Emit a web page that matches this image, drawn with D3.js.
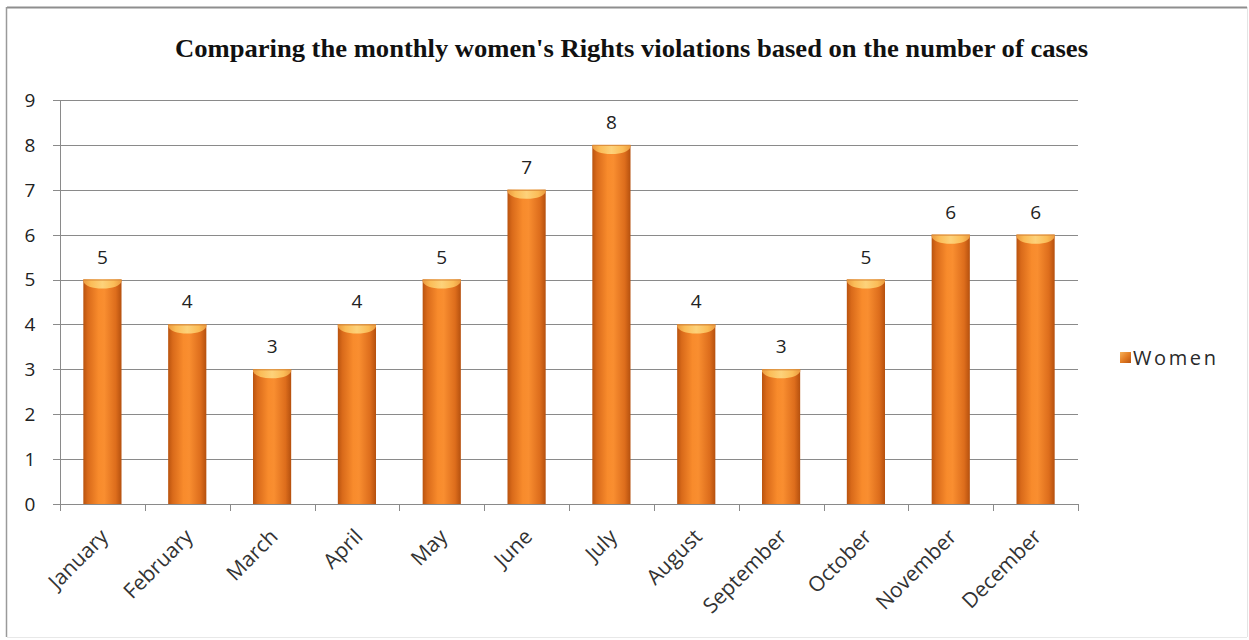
<!DOCTYPE html>
<html>
<head>
<meta charset="utf-8">
<script src="https://cdn.jsdelivr.net/npm/d3@7"></script>
<style>
  html, body { margin: 0; padding: 0; background: #fff; }
  svg { display: block; }
</style>
</head>
<body>
<svg id="chart" width="1249" height="640"></svg>
<script>
const months = ["January","February","March","April","May","June","July","August","September","October","November","December"];
const women = [5, 4, 3, 4, 5, 7, 8, 4, 3, 5, 6, 6];
const yTicks = [0,1,2,3,4,5,6,7,8,9];
const titleText = "Comparing the monthly women's Rights violations based on the number of cases";
const seriesName = "Women";

const svg = d3.select("#chart");
const W = 1249, H = 640;
const plot = { left: 60, right: 1078, top: 100, bottom: 504 };

// frame
svg.append("rect").attr("x", 0).attr("y", 0).attr("width", W).attr("height", H).attr("fill", "#fff");
svg.append("line").attr("x1", 7).attr("x2", 1247).attr("y1", 7.5).attr("y2", 7.5).attr("stroke", "#8e8e8e").attr("stroke-width", 2);
svg.append("line").attr("x1", 6.5).attr("x2", 6.5).attr("y1", 7).attr("y2", 637).attr("stroke", "#9a9a9a").attr("stroke-width", 1.5);
svg.append("line").attr("x1", 1247.5).attr("x2", 1247.5).attr("y1", 7).attr("y2", 637).attr("stroke", "#e4e4e4").attr("stroke-width", 1);
svg.append("line").attr("x1", 7).attr("x2", 1247).attr("y1", 637.5).attr("y2", 637.5).attr("stroke", "#e8e8e8").attr("stroke-width", 1);

// gradients
const defs = svg.append("defs");
const g = defs.append("linearGradient").attr("id", "barGrad").attr("x1", "0").attr("x2", "1").attr("y1", "0").attr("y2", "0");
[["0%", "#b9530f"], ["12%", "#d96a1a"], ["40%", "#f88b2c"], ["55%", "#f98e30"], ["85%", "#dd6d1c"], ["100%", "#b5500e"]]
  .forEach(([o, c]) => g.append("stop").attr("offset", o).attr("stop-color", c));
const cap = defs.append("linearGradient").attr("id", "capGrad").attr("x1", "0").attr("x2", "1").attr("y1", "0").attr("y2", "0");
[["0%", "#eb9a3e"], ["20%", "#fbbd58"], ["50%", "#fdd27a"], ["80%", "#fbbd58"], ["100%", "#eb9a3e"]]
  .forEach(([o, c]) => cap.append("stop").attr("offset", o).attr("stop-color", c));
const lg = defs.append("linearGradient").attr("id", "legGrad").attr("x1", "0").attr("x2", "1").attr("y1", "0").attr("y2", "1");
[["0%", "#f6b25a"], ["50%", "#e47e25"], ["100%", "#b9530f"]]
  .forEach(([o, c]) => lg.append("stop").attr("offset", o).attr("stop-color", c));

// scales
const x = d3.scaleBand().domain(months).range([plot.left, plot.right]).paddingInner(0.55).paddingOuter(0.275);
const y = d3.scaleLinear().domain([0, 9]).range([plot.bottom, plot.top]);

const font = "'Open Sans', 'DejaVu Sans', sans-serif";

// gridlines
svg.append("g").selectAll("line").data(yTicks).join("line")
  .attr("x1", plot.left - 7).attr("x2", plot.right)
  .attr("y1", d => Math.round(y(d)) + 0.5).attr("y2", d => Math.round(y(d)) + 0.5)
  .attr("stroke", "#8a8a8a").attr("stroke-width", 1);

// y axis line
svg.append("line").attr("x1", plot.left + 0.5).attr("x2", plot.left + 0.5)
  .attr("y1", plot.top).attr("y2", plot.bottom + 1).attr("stroke", "#8a8a8a");

// x ticks at band boundaries
const boundaries = d3.range(months.length + 1).map(i => plot.left + i * (plot.right - plot.left) / months.length);
svg.append("g").selectAll("line").data(boundaries).join("line")
  .attr("x1", d => Math.round(d) + 0.5).attr("x2", d => Math.round(d) + 0.5)
  .attr("y1", plot.bottom).attr("y2", plot.bottom + 7)
  .attr("stroke", "#8a8a8a");

// y tick labels
svg.append("g").selectAll("text").data(yTicks).join("text")
  .attr("x", 30).attr("y", d => y(d)).attr("dy", "0.36em")
  .attr("text-anchor", "middle")
  .attr("font-family", font).attr("font-size", 19).attr("fill", "#222")
  .text(d => d);

// bars
const bars = svg.append("g");
bars.selectAll("rect").data(women).join("rect")
  .attr("x", (d, i) => x(months[i]))
  .attr("y", d => y(d))
  .attr("width", x.bandwidth())
  .attr("height", d => y(0) - y(d))
  .attr("fill", "url(#barGrad)");

// bevel caps
bars.selectAll("path.cap").data(women).join("path")
  .attr("class", "cap")
  .attr("d", (d, i) => {
    const x0 = x(months[i]), w = x.bandwidth(), t = y(d);
    return `M${x0},${t} L${x0 + w},${t} L${x0 + w},${t + 2} Q${x0 + w - 3},${t + 9} ${x0 + w / 2},${t + 9} Q${x0 + 3},${t + 9} ${x0},${t + 2} Z`;
  })
  .attr("fill", "url(#capGrad)");
bars.selectAll("line.top").data(women).join("line")
  .attr("class", "top")
  .attr("x1", (d, i) => x(months[i])).attr("x2", (d, i) => x(months[i]) + x.bandwidth())
  .attr("y1", d => y(d) + 0.5).attr("y2", d => y(d) + 0.5)
  .attr("stroke", "#d98a3a").attr("stroke-width", 1);

// data labels
svg.append("g").selectAll("text").data(women).join("text")
  .attr("x", (d, i) => x(months[i]) + x.bandwidth() / 2)
  .attr("y", d => y(d) - 16)
  .attr("text-anchor", "middle")
  .attr("font-family", font).attr("font-size", 19).attr("fill", "#222")
  .text(d => d);

// x labels
svg.append("g").selectAll("text").data(months).join("text")
  .attr("transform", d => `translate(${x(d) + x.bandwidth() / 2 + 7},${plot.bottom + 34}) rotate(-45)`)
  .attr("text-anchor", "end")
  .attr("font-family", font).attr("font-size", 21).attr("fill", "#333")
  .text(d => d);

// title
svg.append("text")
  .attr("x", 175).attr("y", 57)
  .attr("font-family", "'Liberation Serif', 'DejaVu Serif', serif")
  .attr("font-weight", "bold").attr("font-size", 25).attr("fill", "#111")
  .attr("textLength", 913).attr("lengthAdjust", "spacingAndGlyphs")
  .text(titleText);

// legend
svg.append("rect").attr("x", 1120).attr("y", 352).attr("width", 11).attr("height", 11)
  .attr("fill", "url(#legGrad)");
svg.append("text").attr("x", 1133).attr("y", 365)
  .attr("font-family", font).attr("font-size", 20).attr("fill", "#2a2a2a")
  .attr("letter-spacing", 2.6)
  .text(seriesName);
</script>
</body>
</html>
